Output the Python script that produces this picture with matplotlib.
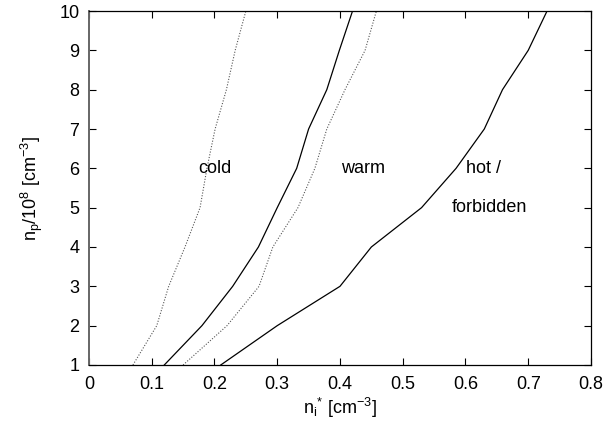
import matplotlib
matplotlib.use("Agg")
import matplotlib.pyplot as plt

plt.rcParams['font.family'] = ['Liberation Sans', 'DejaVu Sans']

# n_p / 10^8 levels
np_levels = [1, 2, 3, 4, 5, 6, 7, 8, 9, 10]
# boundary curves (n_i^* values)
cold_dotted = [0.07, 0.108, 0.127, 0.153, 0.177, 0.188, 0.201, 0.219, 0.233, 0.25]
cold_solid = [0.12, 0.18, 0.229, 0.27, 0.30, 0.331, 0.35, 0.379, 0.399, 0.42]
warm_dotted = [0.15, 0.22, 0.271, 0.293, 0.333, 0.36, 0.379, 0.408, 0.44, 0.458]
hot_solid = [0.21, 0.30, 0.40, 0.45, 0.53, 0.585, 0.63, 0.659, 0.70, 0.73]

fig = plt.figure(figsize=(6.07, 4.30), dpi=100)
ax = fig.add_axes([0.1466, 0.1512, 0.827, 0.8232])

dot = (0, (1, 1.5))
ax.plot(cold_dotted, np_levels, color='#555555', lw=0.8, linestyle=dot)
ax.plot(cold_solid, np_levels, color='black', lw=0.9)
ax.plot(warm_dotted, np_levels, color='#555555', lw=0.8, linestyle=dot)
ax.plot(hot_solid, np_levels, color='black', lw=0.9)

#region labels
fs = 13
ax.text(0.2, 6, 'cold', ha='center', va='center', fontsize=fs)
ax.text(0.437, 6, 'warm', ha='center', va='center', fontsize=fs)
ax.text(0.628, 6, 'hot /', ha='center', va='center', fontsize=fs)
ax.text(0.638, 5, 'forbidden', ha='center', va='center', fontsize=fs)

ax.set_xlim(0, 0.8)
ax.set_ylim(1, 10)
ax.set_xticks([0, 0.1, 0.2, 0.3, 0.4, 0.5, 0.6, 0.7, 0.8])
ax.set_xticklabels(['0', '0.1', '0.2', '0.3', '0.4', '0.5', '0.6', '0.7', '0.8'])
ax.set_yticks(range(1, 11))
ax.tick_params(direction='in', top=True, right=True, labelsize=fs, length=5)
ax.tick_params(axis='x', pad=8)
ax.tick_params(axis='y', pad=7)
for s in ax.spines.values():
    s.set_linewidth(0.9)
ax.spines['left'].set_color('#666666')
ax.spines['left'].set_linewidth(1.4)

ax.set_xlabel(r'n$_\mathregular{i}$$^\mathregular{*}$ [cm$^\mathregular{-3}$]', fontsize=fs, labelpad=2)
ax.set_ylabel(r'n$_\mathregular{p}$/10$^\mathregular{8}$ [cm$^\mathregular{-3}$]', fontsize=fs, labelpad=10)

fig.savefig('out.png', dpi=100)
